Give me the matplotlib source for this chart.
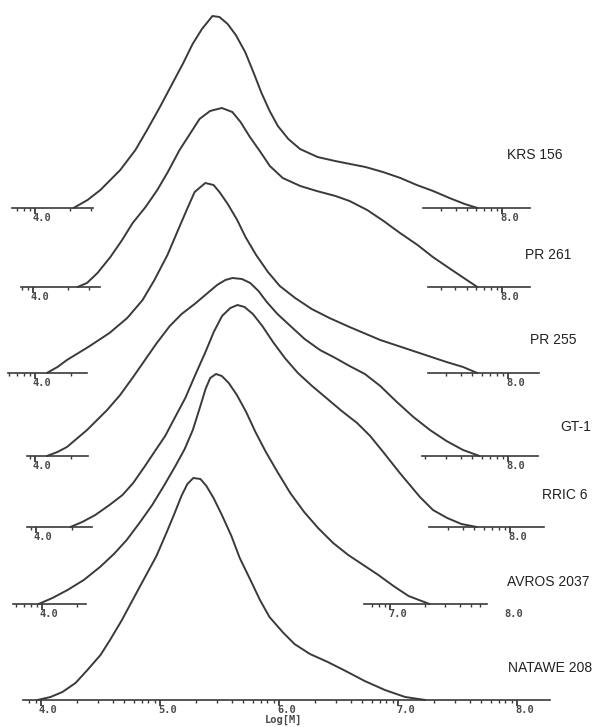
import numpy as np
import matplotlib.pyplot as plt

# Curvas de distribuição de massa molar (Log[M] x resposta do detector)
krs156_logm = [4.33, 4.45, 4.56, 4.73, 4.86, 4.96, 5.07, 5.17, 5.27, 5.35, 5.43, 5.52, 5.58, 5.65,
               5.72, 5.80, 5.87, 5.94, 6.01, 6.08, 6.17, 6.27, 6.42, 6.57, 6.70, 6.83, 6.98, 7.13,
               7.27, 7.41, 7.55, 7.68, 7.79]
krs156_w = [0, 8, 18, 38, 58, 78, 101, 123, 145, 164, 179, 192, 191, 184,
            173, 156, 136, 115, 97, 82, 69, 59, 51, 47, 44, 41, 36, 30,
            23, 17, 10, 4, 0]

pr261_logm = [4.38, 4.46, 4.55, 4.66, 4.76, 4.85, 4.96, 5.06, 5.15, 5.25, 5.36, 5.42, 5.51, 5.61,
              5.70, 5.77, 5.85, 5.94, 6.02, 6.13, 6.28, 6.42, 6.58, 6.70, 6.85, 6.99, 7.13, 7.28,
              7.41, 7.56, 7.70, 7.79]
pr261_w = [0, 4, 14, 30, 47, 64, 80, 97, 115, 137, 157, 168, 176, 179,
           175, 165, 150, 135, 121, 109, 101, 96, 91, 86, 77, 66, 54, 42,
           30, 18, 7, 0]

pr255_logm = [4.10, 4.19, 4.27, 4.45, 4.63, 4.78, 4.91, 5.01, 5.12, 5.21, 5.29, 5.35, 5.44, 5.51,
              5.56, 5.63, 5.71, 5.78, 5.87, 5.97, 6.07, 6.20, 6.34, 6.49, 6.66, 6.92, 7.20, 7.48,
              7.62, 7.74]
pr255_w = [0, 6, 13, 26, 40, 55, 73, 93, 118, 143, 165, 181, 190, 188,
           181, 169, 153, 136, 118, 101, 87, 75, 64, 55, 46, 33, 22, 11,
           6, 0]

gt1_logm = [4.10, 4.19, 4.27, 4.44, 4.61, 4.72, 4.83, 4.93, 5.03, 5.14, 5.24, 5.35, 5.45, 5.54,
            5.61, 5.67, 5.75, 5.82, 5.89, 5.96, 6.05, 6.16, 6.28, 6.41, 6.54, 6.66, 6.79, 6.92,
            7.06, 7.20, 7.34, 7.48, 7.62, 7.76]
gt1_w = [0, 4, 9, 26, 46, 61, 79, 96, 113, 130, 142, 152, 162, 171,
         176, 178, 177, 173, 165, 154, 142, 130, 117, 106, 98, 90, 82, 70,
         54, 39, 26, 15, 6, 0]

rric6_logm = [4.29, 4.39, 4.50, 4.62, 4.73, 4.82, 4.92, 5.01, 5.09, 5.17, 5.26, 5.34, 5.43, 5.50,
              5.57, 5.64, 5.70, 5.76, 5.83, 5.91, 6.00, 6.10, 6.21, 6.33, 6.46, 6.58, 6.71, 6.82,
              6.93, 7.07, 7.24, 7.35, 7.47, 7.59, 7.72]
rric6_w = [0, 5, 12, 22, 32, 44, 61, 77, 91, 109, 129, 151, 175, 195,
           211, 219, 222, 220, 213, 201, 185, 169, 154, 141, 128, 116, 104, 91,
           75, 54, 30, 17, 9, 3, 0]

avros2037_logm = [3.97, 4.09, 4.22, 4.36, 4.50, 4.62, 4.73, 4.84, 4.95, 5.05, 5.15, 5.23, 5.30, 5.36,
                  5.41, 5.45, 5.50, 5.55, 5.61, 5.68, 5.76, 5.84, 5.93, 6.03, 6.14, 6.26, 6.38, 6.51,
                  6.64, 6.77, 6.90, 7.03, 7.16, 7.34]
avros2037_w = [0, 6, 14, 24, 37, 50, 64, 81, 99, 118, 138, 155, 174, 196,
               215, 226, 230, 228, 221, 209, 192, 172, 152, 132, 111, 92, 76, 61,
               49, 39, 29, 18, 8, 0]

natawe208_logm = [3.97, 4.08, 4.18, 4.29, 4.39, 4.50, 4.58, 4.68, 4.77, 4.87, 4.97, 5.05, 5.12, 5.18,
                  5.23, 5.28, 5.34, 5.39, 5.45, 5.52, 5.60, 5.67, 5.76, 5.84, 5.92, 6.03, 6.13, 6.26,
                  6.41, 6.56, 6.72, 6.89, 7.06, 7.23]
natawe208_w = [0, 3, 8, 17, 30, 45, 60, 80, 100, 122, 144, 166, 186, 204,
               216, 222, 221, 214, 202, 185, 164, 142, 120, 100, 83, 68, 56, 46,
               38, 29, 19, 10, 3, 0]

names = ['KRS 156', 'PR 261', 'PR 255', 'GT-1', 'RRIC 6', 'AVROS 2037', 'NATAWE 208']
curves = [(krs156_logm, krs156_w), (pr261_logm, pr261_w), (pr255_logm, pr255_w),
          (gt1_logm, gt1_w), (rric6_logm, rric6_w), (avros2037_logm, avros2037_w),
          (natawe208_logm, natawe208_w)]

# Layout de cada painel (em pixels da figura): linha de base, posição de 4.0, px por década
W, H = 603, 727
paineis = [
    dict(base=208, p4=35, s=116.75, segs=[(3.80, 4.50), (7.32, 8.24)], rot=[4, 8], nome=(507, 155)),
    dict(base=287, p4=33, s=117.25, segs=[(3.90, 4.57), (7.37, 8.24)], rot=[4, 8], nome=(525, 255)),
    dict(base=373, p4=35, s=118.25, segs=[(3.77, 4.44), (7.32, 8.26)], rot=[4, 8], nome=(530, 340)),
    dict(base=456, p4=35, s=118.25, segs=[(3.93, 4.45), (7.27, 8.25)], rot=[4, 8], nome=(560, 427)),
    dict(base=527, p4=36, s=118.5, segs=[(3.92, 4.47), (7.32, 8.29)], rot=[4, 8], nome=(542, 495)),
    dict(base=604, p4=42, s=116.0, segs=[(3.75, 4.38), (6.78, 7.84)], rot=[4, 7, 8], nome=(507, 582)),
    dict(base=700, p4=41, s=119.0, segs=[(3.85, 8.28)], rot=[4, 5, 6, 7, 8], nome=(508, 668)),
]

cor = '#3a3a3a'
fonte_eixo = dict(fontsize=7.5, family='DejaVu Sans Mono', weight='bold', color='#4a4a4a')

fig = plt.figure(figsize=(W / 100, H / 100), dpi=100)
fig.patch.set_facecolor('white')

minors = np.log10(np.outer(np.arange(2, 10), 10.0 ** np.arange(3, 9)).ravel())
majors = np.arange(4, 9)

for (logm, w), nome, p in zip(curves, names, paineis):
    ax = fig.add_axes([0, 0, 1, 1])
    ax.patch.set_alpha(0)
    ax.axis('off')
    ax.set_xlim(4 - p['p4'] / p['s'], 4 + (W - p['p4']) / p['s'])
    ax.set_ylim(-(H - p['base']), p['base'])

    ax.plot(logm, w, color=cor, lw=1.4, solid_joinstyle='round', solid_capstyle='round')

    for a, b in p['segs']:
        ax.plot([a, b], [0, 0], color=cor, lw=1.2)
        mn = minors[(minors > a) & (minors < b)]
        ax.vlines(mn, -3, 0, color=cor, lw=1.0)
        mj = majors[(majors >= a) & (majors <= b)]
        ax.vlines(mj, -5.5, 0, color=cor, lw=1.3)

    for v in p['rot']:
        ax.annotate(f'{v:.1f}', (v, 0), xytext=(-1.5, -3.5), textcoords='offset points',
                    ha='left', va='top', **fonte_eixo)

    if nome == 'NATAWE 208':
        ax.annotate('Log[M]', (6.0, 0), xytext=(3, -10.5), textcoords='offset points',
                    ha='center', va='top', **fonte_eixo)

    fig.text(p['nome'][0] / W, 1 - p['nome'][1] / H, nome, ha='left', va='center',
             fontsize=10, family='Liberation Sans', color='#222222')

fig.savefig('out.png', dpi=100, facecolor='white')
